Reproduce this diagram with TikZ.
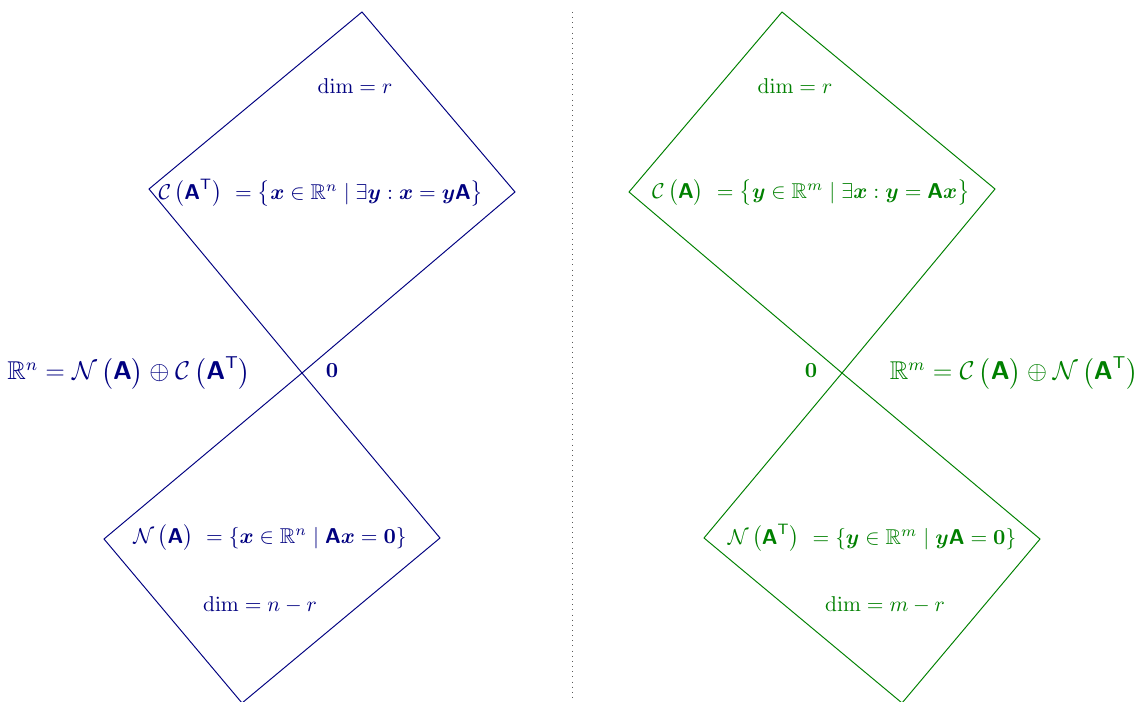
\documentclass[tikz,border=0pt]{standalone}
\usepackage{amsmath,amssymb,bm}
\definecolor{navyc}{RGB}{0,0,128}
\definecolor{greenc}{RGB}{0,128,0}
\newcommand{\sA}{\text{\normalfont\sffamily\bfseries A}}
\newcommand{\tp}{^{\text{\normalfont\sffamily T}}}
\newcommand{\pa}[1]{\,\bigl(#1\bigr)}
\tikzset{
  lab/.style={inner sep=0pt},
  biglab/.style={inner sep=0pt, font=\large},
  subsp/.style={line width=0.45pt, line join=miter},
}
\begin{document}
\begin{tikzpicture}[x=0.466pt,y=-0.466pt]
\useasboundingbox (0,0) rectangle (1138,702);
% left space coordinates
\coordinate (LO) at (302,373);
\coordinate (LT) at (362,12);
\coordinate (LR) at (515,192);
\coordinate (LL) at (149,189);
\coordinate (LL2) at (104,539);
\coordinate (LR2) at (440,538);
\coordinate (LB) at (242,703);
% right space coordinates (mirror)
\coordinate (RO) at (842,373);
\coordinate (RT) at (782,12);
\coordinate (RL) at (629,192);
\coordinate (RR) at (995,189);
\coordinate (RR2) at (1040,539);
\coordinate (RL2) at (704,538);
\coordinate (RB) at (902,703);
% separator
\coordinate (Stop) at (572,12);
\coordinate (Sbot) at (572,702);
\draw[dotted, gray!70!black] (Stop) -- (Sbot);
% left diagram
\draw[subsp, navyc] (LT) -- (LR) -- (LO) -- (LL) -- cycle;
\draw[subsp, navyc] (LO) -- (LR2) -- (LB) -- (LL2) -- cycle;
\node[lab, text=navyc] (ldimr) at (355,86) {$\dim = r$};
\node[lab, text=navyc] (lrow) at (321,193) {$\mathcal{C}\pa{\sA\tp}\ = \bigl\{\bm{x}\in\mathbb{R}^n \mid \exists \bm{y} : \bm{x} = \bm{y}\sA\bigr\}$};
\node[lab, text=navyc] (lzero) at (332,371) {$\mathbf{0}$};
\node[biglab, text=navyc] (lsum) at (129,373) {$\mathbb{R}^n = \mathcal{N}\pa{\sA}\oplus\mathcal{C}\pa{\sA\tp}$};
\node[lab, text=navyc] (lnull) at (270,538) {$\mathcal{N}\pa{\sA}\ = \{\bm{x}\in\mathbb{R}^n \mid \sA\bm{x} = \mathbf{0}\}$};
\node[lab, text=navyc] (ldimnr) at (260,605) {$\dim = n - r$};
% right diagram
\draw[subsp, greenc] (RT) -- (RR) -- (RO) -- (RL) -- cycle;
\draw[subsp, greenc] (RO) -- (RR2) -- (RB) -- (RL2) -- cycle;
\node[lab, text=greenc] (rdimr) at (795,86) {$\dim = r$};
\node[lab, text=greenc] (rcol) at (811,193) {$\mathcal{C}\pa{\sA}\ = \bigl\{\bm{y}\in\mathbb{R}^m \mid \exists \bm{x} : \bm{y} = \sA\bm{x}\bigr\}$};
\node[lab, text=greenc] (rzero) at (811,371) {$\mathbf{0}$};
\node[biglab, text=greenc] (rsum) at (1014,373) {$\mathbb{R}^m = \mathcal{C}\pa{\sA}\oplus\mathcal{N}\pa{\sA\tp}$};
\node[lab, text=greenc] (rnull) at (872,538) {$\mathcal{N}\pa{\sA\tp}\ = \{\bm{y}\in\mathbb{R}^m \mid \bm{y}\sA = \mathbf{0}\}$};
\node[lab, text=greenc] (rdimmr) at (885,605) {$\dim = m - r$};
\end{tikzpicture}
\end{document}
